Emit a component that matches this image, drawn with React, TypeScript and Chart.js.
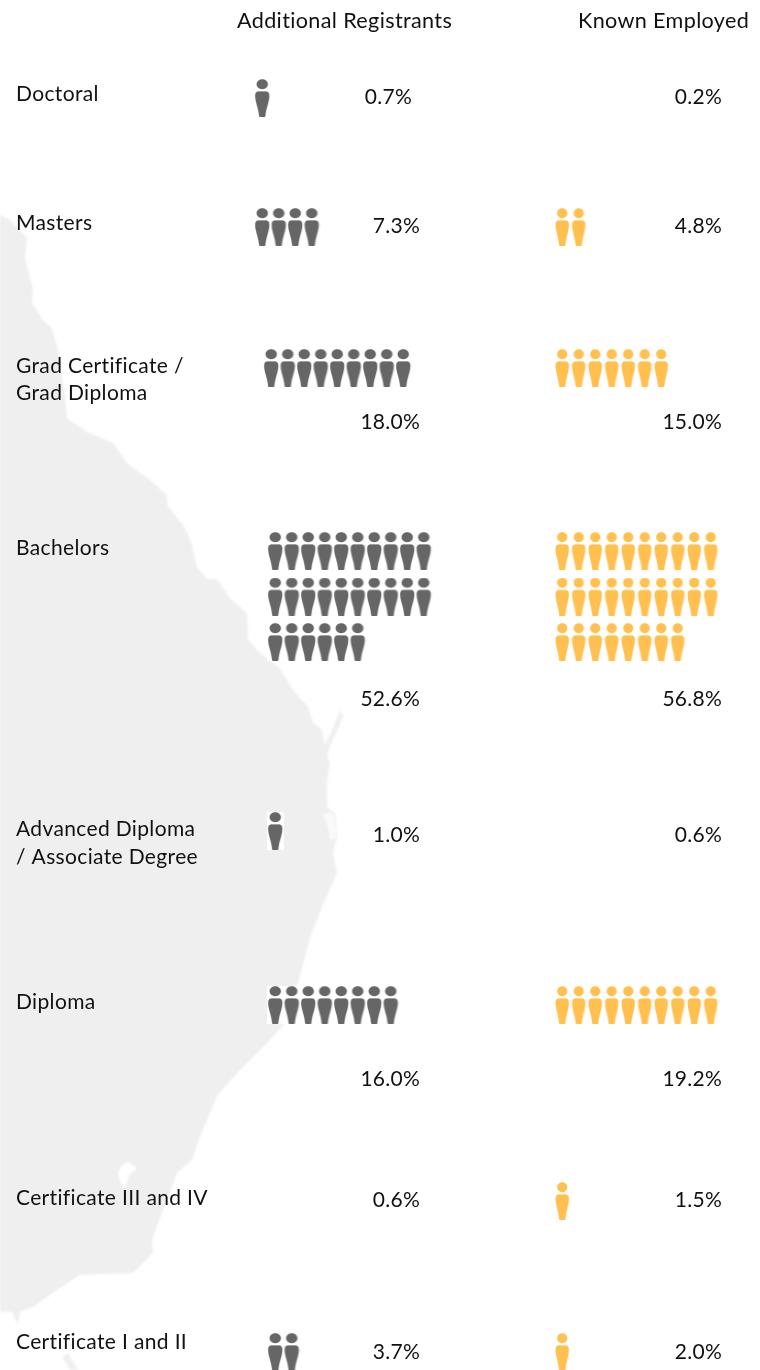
import React, { useEffect, useRef } from "react";
import { Chart, registerables } from "chart.js";

Chart.register(...registerables);

const categories = [
  ["Doctoral"],
  ["Masters"],
  ["Grad Certificate /", "Grad Diploma"],
  ["Bachelors"],
  ["Advanced Diploma", "/ Associate Degree"],
  ["Diploma"],
  ["Certificate III and IV"],
  ["Certificate I and II"],
];
const seriesNames = ["Additional Registrants", "Known Employed"];
const additionalPct = ["0.7%", "7.3%", "18.0%", "52.6%", "1.0%", "16.0%", "0.6%", "3.7%"];
const employedPct = ["0.2%", "4.8%", "15.0%", "56.8%", "0.6%", "19.2%", "1.5%", "2.0%"];
const additionalIcons = [1, 4, 9, 26, 1, 8, 0, 2];
const employedIcons = [0, 2, 7, 28, 0, 10, 1, 1];

// layout (in the page's own units, used by the hidden linear scales)
const W = 760;
const H = 1370;
const GREY = "#666666";
const YELLOW = "#FFC04F";
const MAP = "#EFEFEF";
const FONT = "21px Lato";
const HEADER_FONT = "21.6px Lato";
const PER_ROW = 10;
const STEP_X = 16.5;
const rowStepY = 45.5;
const iconH = 38;
const iconCenterY = [98, 227, 368, 551, 831, 1005, 1201, 1352];
const additionalStartX = [262.5, 262.5, 271.5, 275.5, 275.5, 275.5, 275.5, 275.5];
const employedStartX = 562.5;
const labelY = [[94], [223], [366, 393.5], [548], [829, 857.5], [1002], [1198], [1342]];
const additionalPctRight = [412, 420, 420, 420, 420, 420, 420, 420];
const employedPctRight = 722;
const pctY = [97, 226, 422, 699, 835, 1079, 1200, 1352];

const coast: [number, number][] = [
  [0, 215], [10, 220], [27, 238], [25, 257], [30, 277], [33, 290], [32, 303], [43, 320], [52, 328],
  [58, 350], [62, 375], [65, 397], [67, 418], [87, 432], [113, 443], [127, 463], [150, 480], [167, 495],
  [168, 506], [183, 525], [192, 544], [197, 567], [207, 579], [217, 579], [230, 598], [247, 613],
  [248, 640], [260, 653], [280, 668], [293, 690], [308, 707], [313, 722], [322, 730], [325, 745],
  [340, 712], [339, 705], [343, 717], [332, 742], [327, 755], [330, 763], [327, 783], [327, 807],
  [335, 813], [337, 837], [333, 853], [337, 873], [320, 912], [310, 938], [300, 976], [287, 1021],
  [267, 1043], [240, 1070], [217, 1096], [200, 1137], [192, 1160], [177, 1173], [163, 1210], [152, 1240],
  [153, 1253], [133, 1273], [80, 1275], [57, 1290], [33, 1307], [20, 1312], [18, 1325], [12, 1312], [0, 1312],
];
const bay: [number, number][] = [[118, 1173], [122, 1165], [128, 1162], [137, 1168], [129, 1175], [125, 1188], [120, 1182]];
const patch: [number, number][] = [[322, 815], [333, 812], [337, 838], [330, 840], [328, 826]];
const cape: [number, number][] = [[62, 1357], [68, 1353], [78, 1370], [70, 1370]];

function makeIcon(color: string, withBox: boolean, headRx: number, bodyW: number) {
  const c = document.createElement("canvas");
  const s = 4;
  const w = 16.5;
  c.width = w * s;
  c.height = iconH * s;
  const g = c.getContext("2d")!;
  g.scale(s, s);
  if (withBox) {
    g.fillStyle = "#fff";
    g.fillRect(0, 0, w, iconH);
  }
  const cx = w / 2;
  const hw = bodyW / 2;
  g.fillStyle = color;
  g.beginPath();
  g.ellipse(cx, 5.2, headRx, 5, 0, 0, Math.PI * 2);
  g.fill();
  g.beginPath();
  g.moveTo(cx - hw + 3.5, 12.4);
  g.lineTo(cx + hw - 3.5, 12.4);
  g.bezierCurveTo(cx + hw - 1, 12.4, cx + hw, 14, cx + hw, 17);
  g.bezierCurveTo(cx + hw, 23, cx + 3.8, 29, cx + 3.2, 36.6);
  g.quadraticCurveTo(cx + 3.1, 38, cx + 2, 38);
  g.lineTo(cx - 2, 38);
  g.quadraticCurveTo(cx - 3.1, 38, cx - 3.2, 36.6);
  g.bezierCurveTo(cx - 3.8, 29, cx - hw, 23, cx - hw, 17);
  g.bezierCurveTo(cx - hw, 14, cx - hw + 1, 12.4, cx - hw + 3.5, 12.4);
  g.closePath();
  g.fill();
  // chart.js uses the element's width/height for canvas point styles
  const out = document.createElement("canvas");
  out.width = 17;
  out.height = iconH;
  const o = out.getContext("2d")!;
  o.imageSmoothingQuality = "high";
  o.drawImage(c, 0, 0, 16.5, iconH);
  return out;
}

function iconPoints(counts: number[], startX: (row: number) => number) {
  const pts: { x: number; y: number }[] = [];
  counts.forEach((n, row) => {
    for (let i = 0; i < n; i++) {
      pts.push({
        x: startX(row) + (i % PER_ROW) * STEP_X,
        y: iconCenterY[row] + Math.floor(i / PER_ROW) * rowStepY,
      });
    }
  });
  return pts;
}

function tracePoly(g: CanvasRenderingContext2D, chart: any, pts: [number, number][]) {
  const { x, y } = chart.scales;
  g.beginPath();
  pts.forEach(([a, b], i) => {
    if (i === 0) g.moveTo(x.getPixelForValue(a), y.getPixelForValue(b));
    else g.lineTo(x.getPixelForValue(a), y.getPixelForValue(b));
  });
  g.closePath();
}

const backgroundMap = {
  id: "backgroundMap",
  beforeDatasetsDraw(chart: any) {
    const g = chart.ctx;
    g.save();
    (g as any).filter = "blur(0.8px)";
    g.fillStyle = MAP;
    tracePoly(g, chart, coast);
    g.fill();
    tracePoly(g, chart, cape);
    g.fill();
    g.fillStyle = "#fff";
    tracePoly(g, chart, bay);
    g.fill();
    g.fillStyle = "#FAFAFA";
    tracePoly(g, chart, patch);
    g.fill();
    g.restore();
  },
};

const textLabels = {
  id: "textLabels",
  afterDatasetsDraw(chart: any) {
    const g = chart.ctx;
    const { x, y } = chart.scales;
    g.save();
    g.font = HEADER_FONT;
    (g as any).letterSpacing = "0.35px";
    g.fillStyle = "#111111";
    g.textBaseline = "middle";
    g.textAlign = "left";
    g.fillText(seriesNames[0], x.getPixelForValue(237), y.getPixelForValue(21));
    g.fillText(seriesNames[1], x.getPixelForValue(578), y.getPixelForValue(21));
    g.font = FONT;
    categories.forEach((lines, r) => {
      lines.forEach((t, i) => g.fillText(t, x.getPixelForValue(16), y.getPixelForValue(labelY[r][i])));
    });
    (g as any).letterSpacing = "0.25px";
    g.textAlign = "right";
    additionalPct.forEach((t, r) => g.fillText(t, x.getPixelForValue(additionalPctRight[r]), y.getPixelForValue(pctY[r])));
    employedPct.forEach((t, r) => g.fillText(t, x.getPixelForValue(employedPctRight), y.getPixelForValue(pctY[r])));
    g.restore();
  },
};

export default function App() {
  const ref = useRef<HTMLCanvasElement>(null);
  useEffect(() => {
    const chart = new Chart(ref.current!, {
      type: "scatter",
      data: {
        datasets: [
          {
            label: seriesNames[0],
            data: iconPoints(additionalIcons, (r) => additionalStartX[r]),
            pointStyle: makeIcon(GREY, true, 5.6, 14) as any,
            pointRadius: 8,
          },
          {
            label: seriesNames[1],
            data: iconPoints(employedIcons, () => employedStartX),
            pointStyle: makeIcon(YELLOW, false, 5, 13.2) as any,
            pointRadius: 8,
          },
        ],
      },
      options: {
        animation: false,
        responsive: false,
        maintainAspectRatio: false,
        layout: { padding: 0, autoPadding: false },
        plugins: { legend: { display: false }, tooltip: { enabled: false } },
        scales: {
          x: { type: "linear", display: false, min: 0, max: W },
          y: { type: "linear", display: false, min: 0, max: H, reverse: true },
        },
      },
      plugins: [backgroundMap, textLabels],
    });
    return () => chart.destroy();
  }, []);
  return (
    <div style={{ position: "absolute", left: 0, top: 0, width: W, height: H, background: "#fff", overflow: "hidden" }}>
      <canvas ref={ref} width={W} height={H} style={{ display: "block" }} />
    </div>
  );
}
